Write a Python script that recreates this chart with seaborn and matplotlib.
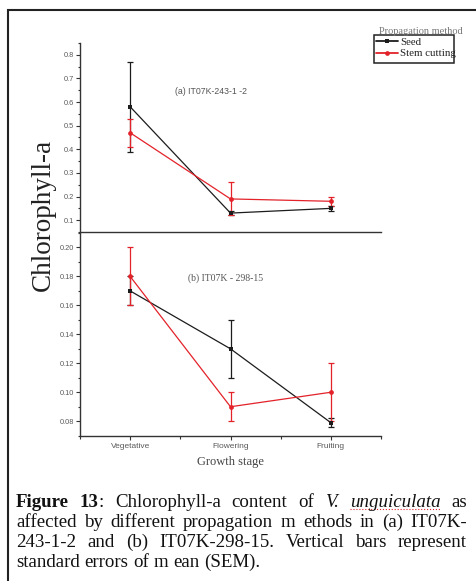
import numpy as np
import pandas as pd
import matplotlib
matplotlib.use("Agg")
import matplotlib.pyplot as plt
import seaborn as sns
from matplotlib.ticker import MultipleLocator, FormatStrFormatter, FixedLocator
from matplotlib.patches import Rectangle
from matplotlib.lines import Line2D

# ---------------- data ----------------
stages = ["Vegetative", "Flowering", "Fruiting"]
methods = ["Seed", "Stem cutting"]

a_seed = [0.58, 0.13, 0.15]
a_seed_err = [0.19, 0.01, 0.01]
a_stem = [0.47, 0.19, 0.18]
a_stem_err = [0.06, 0.07, 0.02]

b_seed = [0.17, 0.13, 0.079]
b_seed_err = [0.01, 0.02, 0.003]
b_stem = [0.18, 0.09, 0.10]
b_stem_err = [0.02, 0.01, 0.02]

panel_labels = ["(a) IT07K-243-1 -2", "(b) IT07K - 298-15"]
y_label = "Chlorophyll-a"
x_label = "Growth stage"
legend_title = "Propagation method"

caption = [
    [[("Figure", "bold", "normal")], [("13", "bold", "normal"), (":", "normal", "normal")],
     [("Chlorophyll-a", "normal", "normal")], [("content", "normal", "normal")],
     [("of", "normal", "normal")], [("V.", "normal", "italic")],
     [("unguiculata", "normal", "italic")], [("as", "normal", "normal")]],
    [[(w, "normal", "normal")] for w in
     "affected by different propagation m ethods in (a) IT07K-".split(" ")],
    [[(w, "normal", "normal")] for w in
     "243-1-2 and (b) IT07K-298-15. Vertical bars represent".split(" ")],
    [[(w, "normal", "normal")] for w in
     "standard errors of m ean (SEM).".split(" ")],
]

# ---------------- style ----------------
sns.set_theme(style="ticks")
plt.rcParams["font.family"] = ["Liberation Sans", "DejaVu Sans"]
SERIF = ["Liberation Serif", "DejaVu Serif"]

W, H = 476, 581
fig = plt.figure(figsize=(W / 100, H / 100), dpi=100)
fig.patch.set_facecolor("white")


def fx(px):
    return px / W


def fy(py):
    return 1 - py / H


ax1 = fig.add_axes([fx(80), fy(232), 301 / W, 189 / H])
ax2 = fig.add_axes([fx(80), fy(435.7), 301 / W, 202.7 / H])

palette = {"Seed": "#1c1c1c", "Stem cutting": "#e3222a"}
markers = {"Seed": "s", "Stem cutting": "o"}

panels = [
    (ax1, a_seed, a_seed_err, a_stem, a_stem_err),
    (ax2, b_seed, b_seed_err, b_stem, b_stem_err),
]

handles, labels = None, None
for i, (ax, sv, se, tv, te) in enumerate(panels):
    df = pd.DataFrame({
        "stage": stages * 2,
        "method": [methods[0]] * 3 + [methods[1]] * 3,
        "value": list(sv) + list(tv),
    })
    sns.lineplot(data=df, x="stage", y="value", hue="method", style="method",
                 hue_order=methods, style_order=methods,
                 markers=markers, dashes=False, palette=palette,
                 markersize=3.4, linewidth=0.9, markeredgewidth=0,
                 sort=False, ax=ax, legend=(i == 0))
    for m, vals, errs in ((methods[0], sv, se), (methods[1], tv, te)):
        ax.errorbar(stages, vals, yerr=errs, fmt="none", ecolor=palette[m],
                    elinewidth=0.9, capsize=2, capthick=0.9, zorder=1)
    if i == 0:
        handles, labels = ax.get_legend_handles_labels()
        ax.get_legend().remove()
    ax.set_xlim(-0.5, 2.5)
    ax.set_xlabel("")
    ax.set_ylabel("")
    ax.set_facecolor("none")
    for s in ("top", "right"):
        ax.spines[s].set_visible(False)
    for s in ("left", "bottom"):
        ax.spines[s].set_linewidth(1.0)
        ax.spines[s].set_color("#333333")
    ax.tick_params(which="both", direction="out", width=0.8, color="#333333",
                   labelcolor="#5a5a5a", pad=1.5)
    ax.tick_params(which="major", length=3, labelsize=5.3)
    ax.tick_params(which="minor", length=1.8)

# upper panel
ax1.set_ylim(0.05, 0.85)
ax1.yaxis.set_major_locator(MultipleLocator(0.1))
ax1.yaxis.set_minor_locator(MultipleLocator(0.05))
ax1.yaxis.set_major_formatter(FormatStrFormatter("%.1f"))
ax1.tick_params(axis="x", which="both", bottom=False, labelbottom=False)
ax1.text(0.435, 0.742, panel_labels[0], transform=ax1.transAxes, ha="center",
         va="center", fontsize=6.3, color="#555555")

# lower panel
ax2.set_ylim(0.07, 0.21)
ax2.yaxis.set_major_locator(MultipleLocator(0.02))
ax2.yaxis.set_minor_locator(MultipleLocator(0.01))
ax2.yaxis.set_major_formatter(FormatStrFormatter("%.2f"))
ax2.xaxis.set_minor_locator(FixedLocator([-0.5, 0.5, 1.5, 2.5]))
ax2.tick_params(axis="x", which="major", labelsize=6, pad=2.5)
ax2.text(0.485, 0.778, panel_labels[1], transform=ax2.transAxes, ha="center",
         va="center", fontsize=7, color="#555555", family=SERIF)
ax2.set_xlabel(x_label, family=SERIF, fontsize=9, color="#444444", labelpad=4)

# y label
fig.text(fx(43), fy(214.5), y_label, rotation=90, ha="center", va="center",
         family=SERIF, fontsize=19.5, color="#222222")

# legend
leg = fig.legend(handles, labels, loc="upper left",
                 bbox_to_anchor=(fx(375), fy(36)), frameon=False,
                 prop={"family": SERIF, "size": 7.8}, handlelength=2.0,
                 borderpad=0.1, labelspacing=0.2, handletextpad=0.25,
                 borderaxespad=0)
for t in leg.get_texts():
    t.set_color("#222222")
for lh in leg.get_lines():
    lh.set_linewidth(1.3)
fig.add_artist(Rectangle((fx(374), fy(63)), 80 / W, 28 / H, fill=False,
                         lw=1.1, ec="#222222", transform=fig.transFigure))
fig.text(fx(420.5), fy(31), legend_title, ha="center", va="center",
         family=SERIF, fontsize=7.5, color="#777777")

# frame
fig.add_artist(Rectangle((fx(8), -0.05), 1.2, fy(10) + 0.05, fill=False,
                         lw=1.5, ec="#222222", transform=fig.transFigure,
                         clip_on=False))

# caption (justified)
renderer = fig.canvas.get_renderer()


def piece_width(s, weight, style, size):
    t = fig.text(0, 0, s, family=SERIF, fontsize=size, fontweight=weight,
                 fontstyle=style)
    w = t.get_window_extent(renderer).width
    t.remove()
    return w


ref_line = caption[3]
ref_w = sum(piece_width(p[0], p[1], p[2], 10) for w_ in ref_line for p in w_)
ref_w += (len(ref_line) - 1) * 2.6
fs = 10 * 238 / ref_w

baselines = [506.7, 527, 547, 566.7]
x0, x1 = 16, 467
space_w = fs * 100 / 72 * 0.25
for li, line in enumerate(caption):
    widths = [sum(piece_width(p[0], p[1], p[2], fs) for p in w_) for w_ in line]
    if li < 3:
        gap = (x1 - x0 - sum(widths)) / (len(line) - 1)
    else:
        gap = space_w
    x = x0
    for w_, ww in zip(line, widths):
        xs = x
        for text, weight, style in w_:
            fig.text(fx(x), fy(baselines[li]), text, family=SERIF, fontsize=fs,
                     fontweight=weight, fontstyle=style, va="baseline",
                     ha="left", color="#111111")
            x += piece_width(text, weight, style, fs)
        if w_[0][0] == "unguiculata":
            fig.add_artist(Line2D([fx(xs), fx(x)],
                                  [fy(baselines[li] + 2.5)] * 2,
                                  color="#e3222a", lw=0.8, ls=":",
                                  transform=fig.transFigure))
        x = xs + ww + gap

fig.savefig("out.png", dpi=100)
